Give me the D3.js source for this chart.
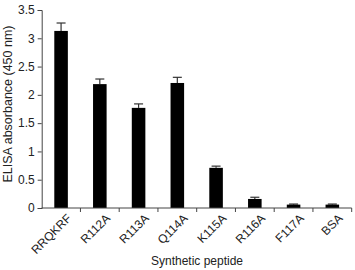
<!DOCTYPE html>
<html>
<head>
<meta charset="utf-8">
<script src="https://cdn.jsdelivr.net/npm/d3@7"></script>
<style>
  body { margin: 0; background: #fff; }
  svg { display: block; font-family: "Liberation Sans", Arial, sans-serif; }
</style>
</head>
<body>
<div id="chart"></div>
<script>
// data
var peptides = [ 'RRQKRF', 'R112A', 'R113A', 'Q114A', 'K115A', 'R116A', 'F117A', 'BSA' ];
var absorbance = [ 3.13, 2.19, 1.77, 2.21, 0.71, 0.16, 0.06, 0.06 ];
var errors = [ 0.14, 0.09, 0.07, 0.10, 0.03, 0.03, 0.01, 0.01 ];
var yTicks = [ 0, 0.5, 1, 1.5, 2, 2.5, 3, 3.5 ];

var width = 355, height = 270;
var plotLeft = 41.7, plotRight = 351.7, plotTop = 10, plotBottom = 208;

var svg = d3.select( '#chart' ).append( 'svg' )
  .attr( 'width', width )
  .attr( 'height', height );

var x = d3.scaleBand()
  .domain( peptides )
  .range( [ plotLeft, plotRight ] )
  .paddingInner( 0 )
  .paddingOuter( 0 );

var y = d3.scaleLinear()
  .domain( [ 0, 3.5 ] )
  .range( [ plotBottom, plotTop ] );

var barW = x.bandwidth() * 0.35;
var data = peptides.map( function( p, i ) {
  return { name: p, value: absorbance[ i ], err: errors[ i ] };
} );

// error bars (upper only)
var eb = svg.append( 'g' );
eb.selectAll( '.stem' )
  .data( data )
  .enter()
  .append( 'line' )
  .attr( 'x1', function( d ) { return x( d.name ) + x.bandwidth() / 2; } )
  .attr( 'x2', function( d ) { return x( d.name ) + x.bandwidth() / 2; } )
  .attr( 'y1', function( d ) { return y( d.value ); } )
  .attr( 'y2', function( d ) { return y( d.value + d.err ); } )
  .attr( 'stroke', '#333' )
  .attr( 'stroke-width', 1.2 );
eb.selectAll( '.cap' )
  .data( data )
  .enter()
  .append( 'line' )
  .attr( 'x1', function( d ) { return x( d.name ) + x.bandwidth() / 2 - 4.5; } )
  .attr( 'x2', function( d ) { return x( d.name ) + x.bandwidth() / 2 + 4.5; } )
  .attr( 'y1', function( d ) { return y( d.value + d.err ); } )
  .attr( 'y2', function( d ) { return y( d.value + d.err ); } )
  .attr( 'stroke', '#333' )
  .attr( 'stroke-width', 1.2 );

svg.selectAll( '.bar' )
  .data( data )
  .enter()
  .append( 'rect' )
  .attr( 'class', 'bar' )
  .attr( 'x', function( d ) { return x( d.name ) + ( x.bandwidth() - barW ) / 2; } )
  .attr( 'y', function( d ) { return y( d.value ); } )
  .attr( 'width', barW )
  .attr( 'height', function( d ) { return y( 0 ) - y( d.value ); } )
  .attr( 'fill', '#000' );

// y axis
var yAxis = svg.append( 'g' )
  .attr( 'transform', 'translate(' + plotLeft + ',0)' )
  .call( d3.axisLeft( y ).tickValues( yTicks ).tickSize( 4 ).tickFormat( d3.format( '' ) ) );
yAxis.select( '.domain' ).attr( 'stroke', '#444' );
yAxis.selectAll( '.tick line' ).attr( 'stroke', '#444' );
yAxis.selectAll( 'text' )
  .attr( 'font-size', '12px' )
  .attr( 'font-family', '"Liberation Sans", Arial, sans-serif' )
  .attr( 'fill', '#222' );

// x axis: ticks at band boundaries
var xAxis = svg.append( 'g' ).attr( 'transform', 'translate(0,' + plotBottom + ')' );
xAxis.append( 'line' )
  .attr( 'x1', plotLeft ).attr( 'x2', plotRight )
  .attr( 'stroke', '#444' );
xAxis.selectAll( '.xt' )
  .data( peptides )
  .enter()
  .append( 'line' )
  .attr( 'x1', function( d ) { return x( d ) + x.bandwidth(); } )
  .attr( 'x2', function( d ) { return x( d ) + x.bandwidth(); } )
  .attr( 'y1', 0 ).attr( 'y2', 4 )
  .attr( 'stroke', '#444' );
xAxis.selectAll( '.xl' )
  .data( peptides )
  .enter()
  .append( 'text' )
  .attr( 'text-anchor', 'end' )
  .attr( 'font-size', '12px' )
  .attr( 'fill', '#222' )
  .attr( 'transform', function( d ) {
    return 'translate(' + ( x( d ) + x.bandwidth() / 2 + 11 ) + ',11) rotate(-45)';
  } )
  .text( function( d ) { return d; } );

svg.append( 'text' )
  .attr( 'x', 197 )
  .attr( 'y', 265 )
  .attr( 'text-anchor', 'middle' )
  .attr( 'font-size', '12px' )
  .attr( 'fill', '#222' )
  .text( 'Synthetic peptide' );

svg.append( 'text' )
  .attr( 'transform', 'translate(12,' + 104 + ') rotate(-90)' )
  .attr( 'text-anchor', 'middle' )
  .attr( 'font-size', '12.5px' )
  .attr( 'fill', '#222' )
  .text( 'ELISA absorbance (450 nm)' );
</script>
</body>
</html>
